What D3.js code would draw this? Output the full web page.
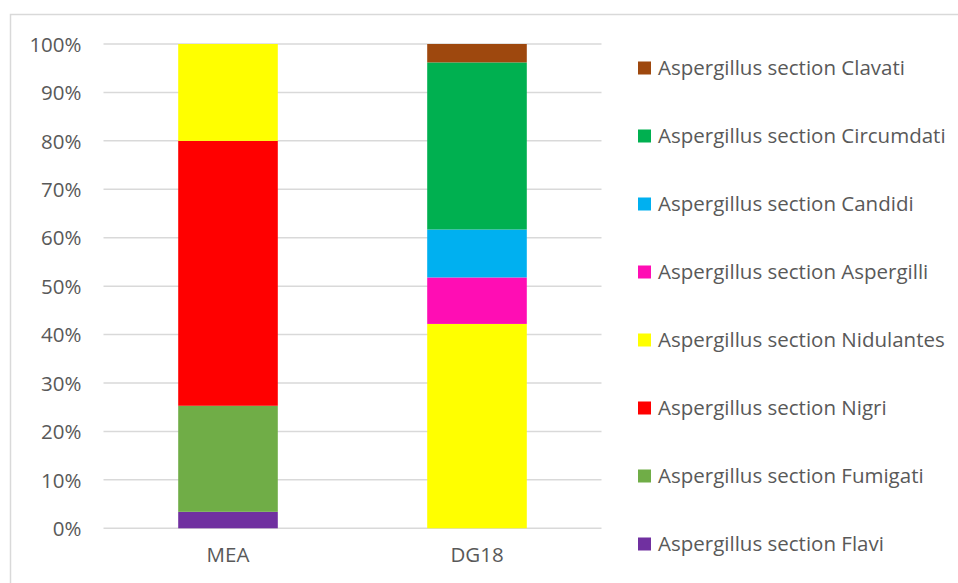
<!DOCTYPE html>
<html>
<head>
<meta charset="utf-8">
<script src="https://cdn.jsdelivr.net/npm/d3@7"></script>
<style>
  html, body { margin: 0; padding: 0; background: #fff; }
  svg { display: block; }
  text { font-family: "Open Sans", "Liberation Sans", sans-serif; fill: #595959; }
</style>
</head>
<body>
<svg id="chart" width="958" height="583"></svg>
<script>
// Media (x categories)
const media = ["MEA", "DG18"];

// Aspergillus sections, stacked bottom to top
const sections = [
  "Aspergillus section Flavi",
  "Aspergillus section Fumigati",
  "Aspergillus section Nigri",
  "Aspergillus section Nidulantes",
  "Aspergillus section Aspergilli",
  "Aspergillus section Candidi",
  "Aspergillus section Circumdati",
  "Aspergillus section Clavati"
];

const sectionColors = [
  "#7030A0", "#70AD47", "#FF0000", "#FFFF00",
  "#FF0DB4", "#00B0F0", "#00B050", "#9E480E"
];

// Percent share of isolates per section, one array per medium (same order as sections)
const meaValues  = [3.4, 21.9, 54.7, 20.0, 0, 0, 0, 0];
const dg18Values = [0, 0, 0, 42.2, 9.6, 9.9, 34.5, 3.8];

const yTicks = [0, 10, 20, 30, 40, 50, 60, 70, 80, 90, 100];

const rows = media.map((m, i) => {
  const vals = i === 0 ? meaValues : dg18Values;
  const r = { medium: m };
  sections.forEach((s, j) => r[s] = vals[j]);
  return r;
});

const svg = d3.select("#chart");
const fontSize = "20.5px";

// outer chart frame
svg.append("rect")
  .attr("x", 10.5).attr("y", 14.5)
  .attr("width", 1000).attr("height", 1000)
  .attr("fill", "none").attr("stroke", "#d9d9d9").attr("stroke-width", 1.5);

const plot = { left: 103.5, right: 601.5, top: 44, bottom: 528.3 };

const x = d3.scaleBand().domain(media).range([plot.left, plot.right])
  .paddingInner(0.6).paddingOuter(0.3);
const y = d3.scaleLinear().domain([0, 100]).range([plot.bottom, plot.top]);
const color = d3.scaleOrdinal().domain(sections).range(sectionColors);

// gridlines
svg.append("g")
  .selectAll("line")
  .data(yTicks)
  .join("line")
  .attr("x1", plot.left).attr("x2", plot.right)
  .attr("y1", d => y(d)).attr("y2", d => y(d))
  .attr("stroke", "#d9d9d9").attr("stroke-width", 1.5);

// stacked bars
const stacked = d3.stack().keys(sections)(rows);
svg.append("g")
  .selectAll("g")
  .data(stacked)
  .join("g")
  .attr("fill", d => color(d.key))
  .selectAll("rect")
  .data(d => d.filter(p => p[1] - p[0] > 0))
  .join("rect")
  .attr("x", d => x(d.data.medium))
  .attr("width", x.bandwidth())
  .attr("y", d => y(d[1]))
  .attr("height", d => y(d[0]) - y(d[1]));

// y axis labels
const yAxis = d3.axisLeft(y).tickValues(yTicks).tickFormat(d => d + "%").tickSize(0).tickPadding(22);
const yg = svg.append("g").attr("transform", `translate(${plot.left},0)`).call(yAxis);
yg.select(".domain").remove();
yg.attr("font-family", null);
yg.selectAll("text").style("font-size", fontSize).attr("fill", "#595959").attr("dy", "0.35em");

// x axis labels
const xAxis = d3.axisBottom(x).tickSize(0).tickPadding(19);
const xg = svg.append("g").attr("transform", `translate(0,${plot.bottom})`).call(xAxis);
xg.select(".domain").remove();
xg.attr("font-family", null);
xg.selectAll("text").style("font-size", fontSize).attr("fill", "#595959");

// legend, top to bottom in reverse stack order
const legendItems = sections.slice().reverse();
const legend = svg.append("g")
  .selectAll("g")
  .data(legendItems)
  .join("g")
  .attr("transform", (d, i) => `translate(638,${68 + i * 68})`);
legend.append("rect")
  .attr("x", 0).attr("y", -6.5).attr("width", 13).attr("height", 13)
  .attr("fill", d => color(d));
legend.append("text")
  .attr("x", 20).attr("y", 0).attr("dy", "0.35em")
  .style("font-size", fontSize)
  .text(d => d);
</script>
</body>
</html>
